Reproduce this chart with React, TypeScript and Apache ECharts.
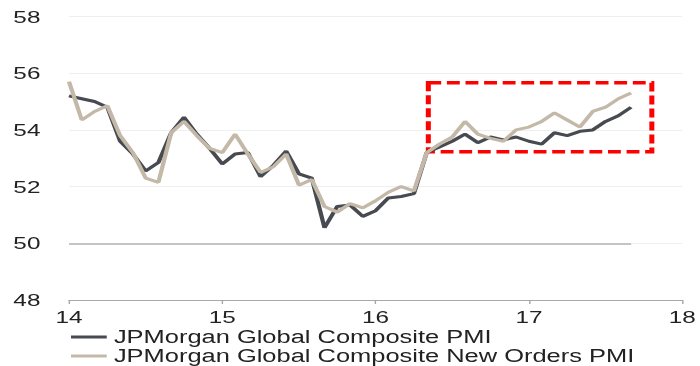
import React, { useEffect, useRef } from "react";
import * as echarts from "echarts";

// Monthly data, Jan 2014 .. Sep 2017 (x axis in years "14".."18")
const startYear = 14;
const composite = [
  55.2, 55.1, 55.0, 54.8, 53.6, 53.15, 52.55, 52.85, 53.9, 54.45, 53.85, 53.35,
  52.8, 53.15, 53.2, 52.35, 52.75, 53.25, 52.45, 52.3, 50.55, 51.3, 51.35, 50.95,
  51.15, 51.6, 51.65, 51.75, 53.2, 53.4, 53.6, 53.85, 53.55, 53.75, 53.65, 53.75,
  53.6, 53.5, 53.9, 53.8, 53.95, 54.0, 54.3, 54.5, 54.8,
];
const newOrders = [
  55.7, 54.35, 54.65, 54.85, 53.8, 53.2, 52.3, 52.15, 53.9, 54.3, 53.8, 53.35,
  53.2, 53.85, 53.15, 52.5, 52.7, 53.15, 52.05, 52.25, 51.3, 51.1, 51.4, 51.25,
  51.5, 51.8, 52.0, 51.85, 53.2, 53.5, 53.75, 54.3, 53.85, 53.7, 53.6, 54.0,
  54.1, 54.3, 54.6, 54.35, 54.1, 54.65, 54.8, 55.1, 55.3,
];
const seriesNames = [
  "JPMorgan Global Composite PMI",
  "JPMorgan Global Composite New Orders PMI",
];
const xRange = [14, 18];
const yRange = [48, 58];
const yStep = 2;
const referenceLevel = 50;
const highlightBox = [
  [16.344, 55.665],
  [17.802, 53.23],
];

const monthX = composite.map((_, i) => startYear + i / 12);

const S = 1.43;
const W = 700 / S;
const FONT = "'Liberation Sans', Arial, sans-serif";

export default function App() {
  const ref = useRef<HTMLDivElement>(null);
  useEffect(() => {
    const chart = echarts.init(ref.current!, null, {
      renderer: "svg",
      width: W,
      height: 366,
    });
    chart.setOption({
      animation: false,
      grid: { left: 69 / S, right: 12 / S, top: 16.5, bottom: 66 },
      xAxis: {
        type: "value",
        min: xRange[0],
        max: xRange[1],
        interval: 1,
        axisLine: { show: true, onZero: false, lineStyle: { color: "#a8a8a8", width: 1 } },
        axisTick: { show: true, length: 4, lineStyle: { color: "#a8a8a8" } },
        splitLine: { show: false },
        axisLabel: {
          color: "#222",
          fontSize: 17,
          fontFamily: FONT,
          margin: 8,
          showMaxLabel: true,
        },
      },
      yAxis: {
        type: "value",
        min: yRange[0],
        max: yRange[1],
        interval: yStep,
        axisLine: { show: false },
        axisTick: { show: false },
        splitLine: { show: true, lineStyle: { color: "#efefef", width: 1 } },
        axisLabel: {
          color: "#222",
          fontSize: 17,
          fontFamily: FONT,
          margin: 20,
        },
      },
      legend: {
        orient: "vertical",
        left: 71 / S,
        top: 327.5,
        height: 60,
        padding: 0,
        itemGap: 0,
        itemWidth: 25,
        itemHeight: 3,
        icon: "rect",
        data: seriesNames,
        textStyle: {
          color: "#222",
          fontSize: 17.8,
          fontFamily: FONT,
          lineHeight: 19,
        },
      },
      series: [
        {
          name: seriesNames[0],
          type: "line",
          data: monthX.map((x, i) => [x, composite[i]]),
          showSymbol: false,
          symbol: "none",
          lineStyle: { color: "#474a50", width: 3 },
          itemStyle: { color: "#474a50" },
          z: 3,
          markLine: {
            silent: true,
            symbol: ["none", "none"],
            label: { show: false },
            emphasis: { disabled: true },
            lineStyle: { color: "#c4c4c4", width: 2, type: "solid" },
            data: [
              [
                { coord: [monthX[0], referenceLevel] },
                { coord: [monthX[monthX.length - 1], referenceLevel] },
              ],
            ],
          },
        },
        {
          name: seriesNames[1],
          type: "line",
          data: monthX.map((x, i) => [x, newOrders[i]]),
          showSymbol: false,
          symbol: "none",
          lineStyle: { color: "#c4b9a9", width: 3 },
          itemStyle: { color: "#c4b9a9" },
          z: 4,
          markArea: {
            silent: true,
            label: { show: false },
            emphasis: { disabled: true },
            itemStyle: {
              color: "rgba(0,0,0,0)",
              borderColor: "#ff0000",
              borderWidth: 3.5,
              borderType: [9, 4],
            },
            data: [
              [
                { coord: highlightBox[0] },
                { coord: highlightBox[1] },
              ],
            ],
          },
        },
      ],
    });
    return () => chart.dispose();
  }, []);
  return (
    <div
      ref={ref}
      style={{
        position: "fixed",
        left: 0,
        top: 0,
        width: W,
        height: 366,
        transform: `scaleX(${S})`,
        transformOrigin: "0 0",
      }}
    />
  );
}
